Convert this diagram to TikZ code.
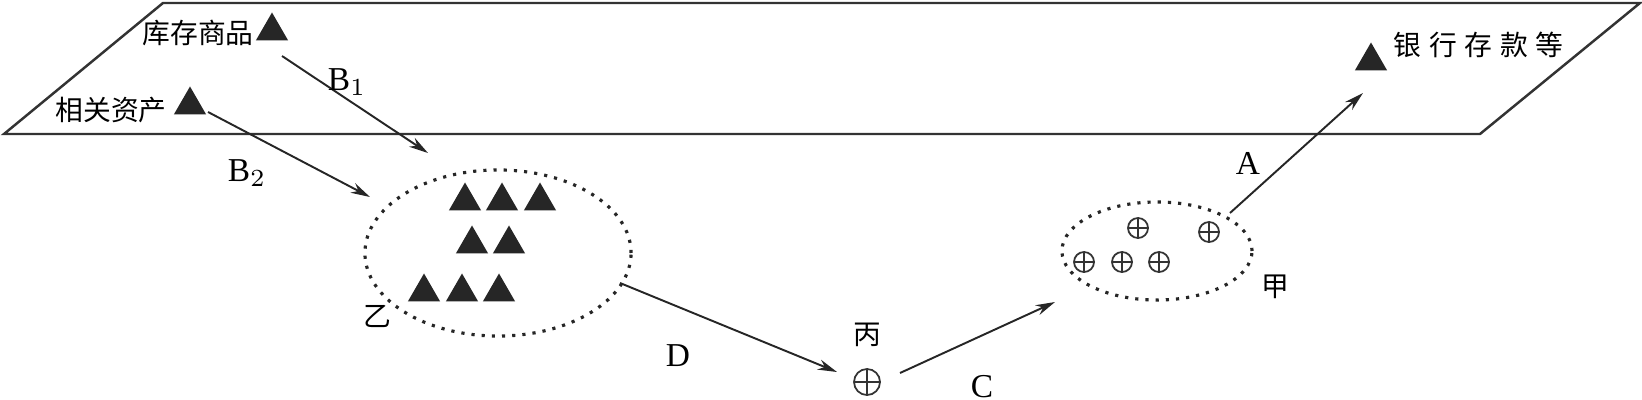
\documentclass[tikz,border=0pt]{standalone}
\usepackage{fontspec}
\setmainfont{Liberation Serif}
\newfontfamily\cjk{Noto Sans CJK SC}
\newfontfamily\cjkwide[LetterSpace=28]{Noto Sans CJK SC}
\usetikzlibrary{shapes.geometric, arrows.meta, positioning}

\tikzset{
  tri/.style={regular polygon, regular polygon sides=3, fill=black!85, inner sep=0pt, minimum size=0.37cm},
  oplusnode/.style={circle, draw=black!80, line width=0.5pt, inner sep=0pt, minimum size=0.2cm,
    path picture={\draw[black!80, line width=0.5pt] (path picture bounding box.north) -- (path picture bounding box.south)
      (path picture bounding box.west) -- (path picture bounding box.east);}},
  cn/.style={font=\cjk\fontsize{7.9}{9}\selectfont, inner sep=0pt},
  lbl/.style={font=\fontsize{9.5}{11}\selectfont, inner sep=0pt},
  arr/.style={-{Stealth[length=5.5pt,width=3pt]}, line width=0.55pt, black!85},
  grp/.style={ellipse, draw=black!85, dotted, line width=0.9pt, inner sep=0pt}
}

\begin{document}
\begin{tikzpicture}[x=0.01cm, y=-0.01cm]
    \useasboundingbox (0,0) rectangle (1642,400);

    % Plane
    \draw[black!80, line width=0.7pt] (4,134) -- (163,3) -- (1640,3) -- (1480,134) -- cycle;

    % Assets on the plane
    \node[cn] (kc) at (198,33) {库存商品};
    \node[tri] (kcT) at (272,31) {};
    \node[cn] (xg) at (111,110) {相关资产};
    \node[tri] (xgT) at (190,105) {};
    \node[tri] (yhT) at (1371,61) {};
    \node[font=\cjkwide\fontsize{7.9}{9}\selectfont, inner sep=0pt, anchor=west] (yh) at (1393,45) {银行存款等};

    % Group yi
    \node[grp, minimum width=2.66cm, minimum height=1.66cm] (yi) at (498,253) {};
    \foreach \x in {465,502,540} \node[tri] at (\x,201) {};
    \foreach \x in {472,509} \node[tri] at (\x,244) {};
    \foreach \x in {424,462,499} \node[tri] at (\x,292) {};
    \node[cn] (yiL) at (377,316) {乙};

    % Bing
    \node[oplusnode, minimum size=0.26cm] (bing) at (867,382) {};
    \node[cn] (bingL) at (867,335) {丙};

    % Group jia
    \node[grp, minimum width=1.90cm, minimum height=0.98cm] (jia) at (1157,251) {};
    \node[oplusnode] (j1) at (1138,228) {};
    \node[oplusnode] (j2) at (1209,232) {};
    \node[oplusnode] (j3) at (1084,262) {};
    \node[oplusnode] (j4) at (1122,262) {};
    \node[oplusnode] (j5) at (1159,262) {};
    \node[cn] (jiaL) at (1275,287) {甲};

    % Arrow ends
    \coordinate (b1s) at (282,56);
    \coordinate (b1e) at (428,153);
    \coordinate (b2s) at (208,112);
    \coordinate (b2e) at (370,197);
    \coordinate (ds) at (620,283);
    \coordinate (de) at (837,372);
    \coordinate (cs) at (900,373);
    \coordinate (ce) at (1055,302);
    \coordinate (as) at (1230,213);
    \coordinate (ae) at (1363,93);

    \draw[arr] (b1s) -- (b1e);
    \draw[arr] (b2s) -- (b2e);
    \draw[arr] (ds) -- (de);
    \draw[arr] (cs) -- (ce);
    \draw[arr] (as) -- (ae);

    \node[lbl] (lb1) at (347,82) {B$_1$};
    \node[lbl] (lb2) at (247,173) {B$_2$};
    \node[lbl] (ld) at (678,356) {D};
    \node[lbl] (lc) at (982,387) {C};
    \node[lbl] (la) at (1248,163) {A};
\end{tikzpicture}
\end{document}
